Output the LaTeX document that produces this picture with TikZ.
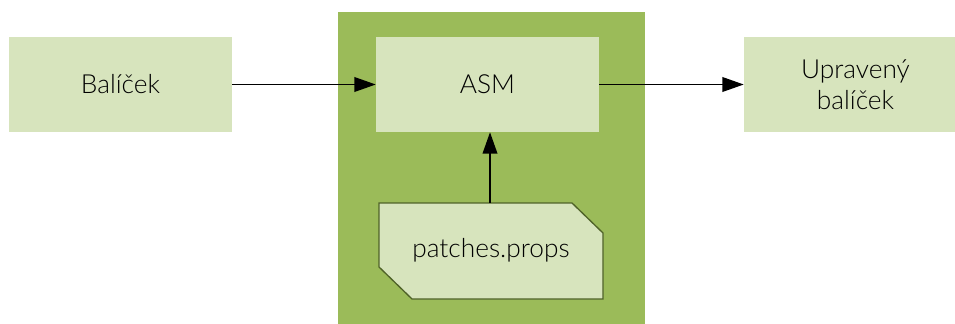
\documentclass[tikz,border=0pt]{standalone}
\usepackage{fontspec}
\setmainfont{Lato Light}
\usetikzlibrary{arrows.meta,positioning}
\definecolor{paleolive}{HTML}{D7E4BD}
\definecolor{olive}{HTML}{9BBB59}
\definecolor{darkolive}{HTML}{4F6228}
\tikzset{
  px/.style={x=0.75pt,y=-0.75pt},
  labelfont/.style={font=\fontsize{19.7}{23}\selectfont},
  flowbox/.style={fill=paleolive,draw=none,minimum width=167.25pt,minimum height=71.25pt,inner sep=0pt,align=center,labelfont},
  flowarrow/.style={line width=1.1pt,-{Triangle[length=16pt,width=11pt]}}
}
\begin{document}
\begin{tikzpicture}[px]
\useasboundingbox (0,0) rectangle (955,324);
\begin{scope}
\clip (0,0) rectangle (955,324);
% container
\fill[olive] (338,12) rectangle (645,324);
\node[flowbox] (pkg) at (120.5,84.5) {Balíček};
\node[flowbox] (asm) at (487.5,84.5) {ASM};
\node[flowbox] (out) at (855.5,84.5) {Upravený\\balíček};
% properties file with two cut corners
\draw[fill=paleolive,draw=darkolive,line width=1pt]
  (379,203) -- (572,203) -- (603,233) -- (603,299) -- (412,299) -- (379,267) -- cycle;
\node[labelfont] (props) at (491,250) {patches.props};
\coordinate (propstop) at (490,203);
\draw[flowarrow] (pkg.east) -- (asm.west);
\draw[flowarrow] (asm.east) -- (out.west);
\draw[flowarrow] (propstop) -- (asm.south -| propstop);
\end{scope}
\end{tikzpicture}
\end{document}
